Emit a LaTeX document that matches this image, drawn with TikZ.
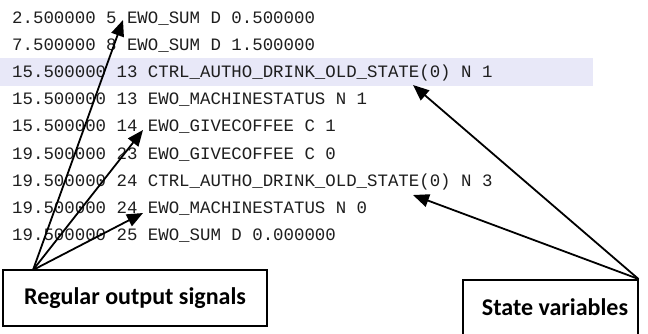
\documentclass[tikz,border=0pt]{standalone}
\usepackage{fontspec}
\setmainfont{Carlito}
\newfontfamily\logfont{Liberation Mono}
\usetikzlibrary{arrows.meta}
\definecolor{hilite}{RGB}{232,232,248}
\definecolor{logink}{RGB}{30,30,30}
\tikzset{
  logline/.style={anchor=base west, inner sep=0pt, font=\logfont\fontsize{17.4}{17.4}\selectfont, text=logink},
  box/.style={draw, line width=1.5pt, inner sep=0pt},
  boxtext/.style={font=\bfseries\fontsize{24}{24}\selectfont},
  pointer/.style={line width=1.8pt, -{Triangle[length=16pt,width=13pt]}}
}
\begin{document}
\begin{tikzpicture}[x=1pt,y=-1pt]
\clip (0,0) rectangle (648,333);
\fill[white] (0,0) rectangle (648,333);
\fill[hilite] (0,58) rectangle (593,86);
\node[logline] (l1) at (12,23) {2.500000 5 EWO\_SUM D 0.500000};
\node[logline] (l2) at (12,50.2) {7.500000 8 EWO\_SUM D 1.500000};
\node[logline] (l3) at (12,77.4) {15.500000 13 CTRL\_AUTHO\_DRINK\_OLD\_STATE(0) N 1};
\node[logline] (l4) at (12,104.6) {15.500000 13 EWO\_MACHINESTATUS N 1};
\node[logline] (l5) at (12,131.8) {15.500000 14 EWO\_GIVECOFFEE C 1};
\node[logline] (l6) at (12,159) {19.500000 23 EWO\_GIVECOFFEE C 0};
\node[logline] (l7) at (12,186.2) {19.500000 24 CTRL\_AUTHO\_DRINK\_OLD\_STATE(0) N 3};
\node[logline] (l8) at (12,213.4) {19.500000 24 EWO\_MACHINESTATUS N 0};
\node[logline] (l9) at (12,240.6) {19.500000 25 EWO\_SUM D 0.000000};
% boxes
\node[box, boxtext, minimum width=264pt, minimum height=56pt] (reg) at (135,298) {Regular output signals};
\node[box, minimum width=175pt, minimum height=70pt, anchor=north west] (sv) at (462,279) {};
\node[boxtext, inner sep=0pt] (svt) at (555,307) {State variables};
% targets
\coordinate (t1) at (123,20);
\coordinate (t5) at (143,130);
\coordinate (t8) at (143,213);
\coordinate (s3) at (413,85);
\coordinate (s7) at (413,195);
\coordinate (rs) at (33,270);
\coordinate (ss) at (sv.north east);
\draw[pointer] (rs) -- (t1);
\draw[pointer] (rs) -- (t5);
\draw[pointer] (rs) -- (t8);
\draw[pointer] (ss) -- (s3);
\draw[pointer] (ss) -- (s7);
\end{tikzpicture}
\end{document}
